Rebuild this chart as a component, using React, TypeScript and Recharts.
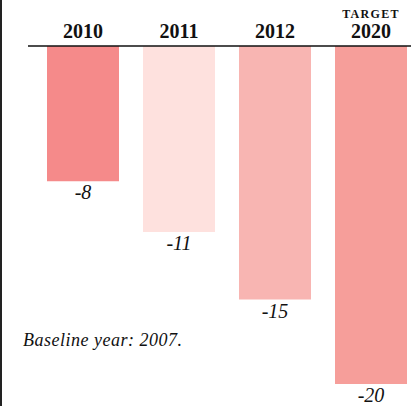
import React from 'react';
import { BarChart, Bar, XAxis, YAxis, Cell, LabelList, Customized } from 'recharts';

const years = ['2010', '2011', '2012', '2020'];
const prefixes = ['', '', '', 'TARGET'];
const values = [-8, -11, -15, -20];
const colors = ['#F58A8A', '#FEE1DE', '#F8B5B2', '#F69E9A'];
const footnote = 'Baseline year: 2007.';

const data = years.map((y, i) => ({ name: y, prefix: prefixes[i], value: values[i] }));

const SERIF = '"Liberation Serif", "Times New Roman", serif';

const YearTick = (props: any) => {
  const { x, y, payload, index } = props;
  const pre = prefixes[index];
  return (
    <g>
      {pre ? (
        <text x={x} y={y - 20.5} textAnchor="middle" fontFamily={SERIF} fontWeight="bold" fontSize={12} letterSpacing={1.3} fill="#111">
          {pre}
        </text>
      ) : null}
      <text x={x} y={y} textAnchor="middle" fontFamily={SERIF} fontWeight="bold" fontSize={20} fill="#111">
        {payload.value}
      </text>
    </g>
  );
};

const ValueLabel = (props: any) => {
  const { x, y, width, height, value } = props;
  const bottom = Math.max(y, y + height);
  return (
    <text x={x + width / 2} y={bottom + 18} textAnchor="middle" fontFamily={SERIF} fontStyle="italic" fontSize={20} fill="#111">
      {value}
    </text>
  );
};

const Footnote = () => (
  <text x={23} y={346} fontFamily={SERIF} fontStyle="italic" fontSize={18} letterSpacing={0.5} fill="#111">
    {footnote}
  </text>
);

export default function App() {
  return (
    <div style={{ position: 'absolute', left: 0, top: 0, width: 411, height: 406, overflow: 'hidden', background: '#fff' }}>
      <BarChart width={419} height={406} data={data} margin={{ top: 0, right: 0, bottom: 22, left: 28 }} barSize={72}>
        <XAxis
          dataKey="name"
          orientation="top"
          height={46}
          padding={{ left: 7, right: 0 }}
          tickLine={false}
          axisLine={{ stroke: '#111', strokeWidth: 1.5 }}
          tick={<YearTick />}
          interval={0}
        />
        <YAxis hide domain={[-20, 0]} />
        <Bar dataKey="value" isAnimationActive={false}>
          {data.map((d, i) => (
            <Cell key={d.name} fill={colors[i]} />
          ))}
          <LabelList dataKey="value" content={<ValueLabel />} />
        </Bar>
        <Customized component={Footnote} />
      </BarChart>
      <div style={{ position: 'absolute', left: 0, top: 0, width: 2, height: 406, background: '#222' }} />
    </div>
  );
}
